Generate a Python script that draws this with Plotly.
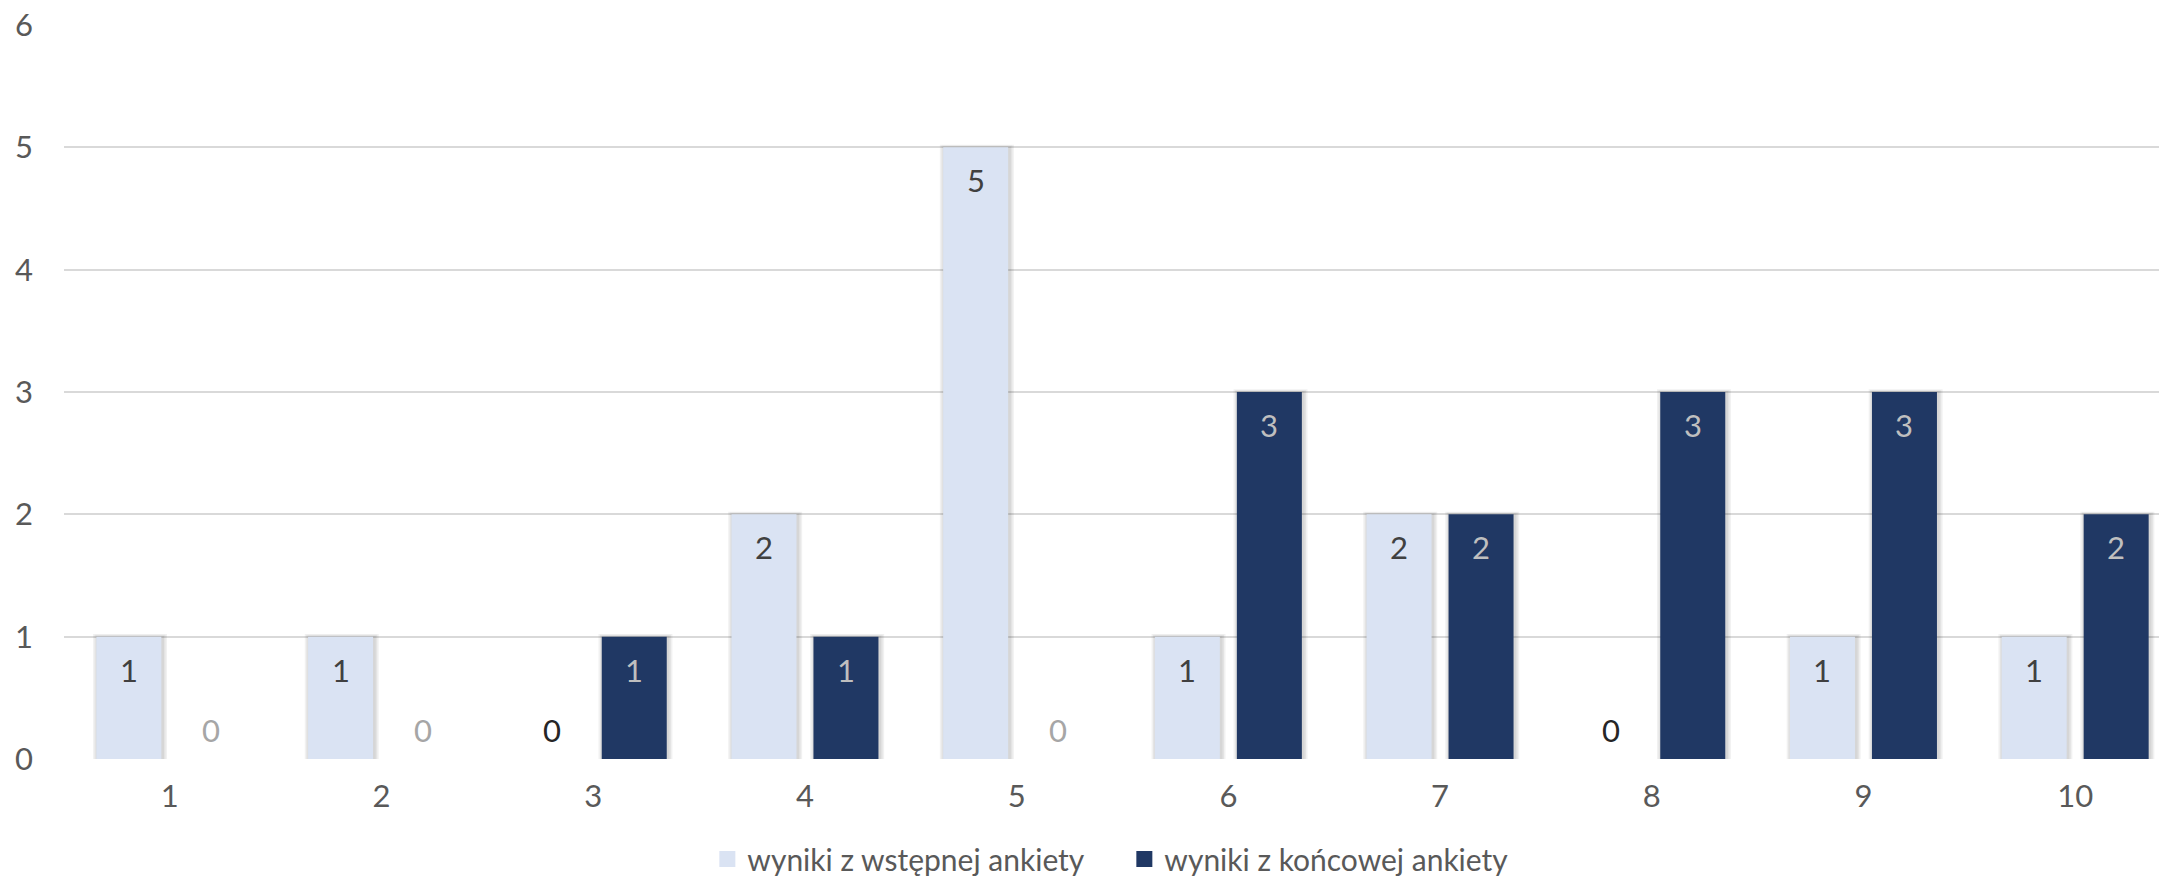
import plotly.graph_objects as go

# Survey results: number of answers per score (1-10)
categories = [1, 2, 3, 4, 5, 6, 7, 8, 9, 10]
initial_survey = [1, 1, 0, 2, 5, 1, 2, 0, 1, 1]
final_survey = [0, 0, 1, 1, 0, 3, 2, 3, 3, 2]
series_names = ["wyniki z wstępnej ankiety", "wyniki z końcowej ankiety"]
y_ticks = [0, 1, 2, 3, 4, 5, 6]

LIGHT = "#DAE3F3"
DARK = "#203864"
FONT = "Lato"
FS = 31

W, H = 2159, 876
M_L, M_R, M_T, M_B = 64, 0, 25, 117
X_RANGE = [0.5, 10.396]
Y_RANGE = [0, 6]

# pixel scale of the axes
px_per_x = (W - M_L - M_R) / (X_RANGE[1] - X_RANGE[0])
px_per_y = (H - M_T - M_B) / (Y_RANGE[1] - Y_RANGE[0])

# bar geometry in category units
BAR_W = 65 / px_per_x
CENTER_SHIFT = 41 / px_per_x
series = [
    (series_names[0], initial_survey, LIGHT, -CENTER_SHIFT, "#404040", "#262626"),
    (series_names[1], final_survey, DARK, CENTER_SHIFT, "#BFBFBF", "#A6A6A6"),
]

fig = go.Figure()

# soft drop shadow under the bars (several translucent layers)
for name, vals, color, shift, _, _ in series:
    for p in (1.5, 3.0, 4.5):
        dx = p / px_per_x
        dy = 0.6 * p / px_per_y
        fig.add_trace(go.Bar(
            x=categories,
            y=[v + dy if v > 0 else 0 for v in vals],
            width=BAR_W + 2 * dx,
            offset=shift - BAR_W / 2 - dx + 1.2 / px_per_x,
            marker=dict(color="rgba(0,0,0,0.055)", line=dict(width=0)),
            showlegend=False, hoverinfo="skip",
        ))

# the bars themselves
for name, vals, color, shift, _, _ in series:
    fig.add_trace(go.Bar(
        x=categories, y=vals, name=name,
        width=BAR_W, offset=shift - BAR_W / 2,
        marker=dict(color=color, line=dict(width=0)),
        showlegend=False,
    ))

# legend entries with larger square swatches
for name, vals, color, shift, _, _ in series:
    fig.add_trace(go.Scatter(
        x=[None], y=[None], mode="markers", name=name,
        marker=dict(symbol="square", size=16, color=color),
    ))

# value labels: inside near the top for bars, just above the axis for zeros
annotations = []
for name, vals, color, shift, in_color, zero_color in series:
    for c, v in zip(categories, vals):
        annotations.append(dict(
            x=c + shift, y=v, xref="x", yref="y",
            text=str(v), showarrow=False,
            yshift=-33 if v > 0 else 29,
            font=dict(family=FONT, size=FS, color=in_color if v > 0 else zero_color),
        ))

fig.update_layout(
    width=W, height=H,
    margin=dict(l=M_L, r=M_R, t=M_T, b=M_B, pad=0, autoexpand=False),
    paper_bgcolor="white", plot_bgcolor="white",
    barmode="overlay",
    font=dict(family=FONT, size=FS, color="#595959"),
    showlegend=True,
    legend=dict(
        orientation="h", x=663 / W, xanchor="left",
        y=1 - 859 / H, yanchor="middle", yref="container",
        font=dict(family=FONT, size=30, color="#595959"),
        itemsizing="trace", tracegroupgap=0, entrywidth=372,
    ),
    annotations=annotations,
    xaxis=dict(
        range=X_RANGE, tickmode="array", tickvals=categories,
        ticktext=[str(c) for c in categories],
        showgrid=False, zeroline=False, showline=False, ticks="",
        ticklabelstandoff=16,
    ),
    yaxis=dict(
        range=Y_RANGE, tickmode="array", tickvals=y_ticks,
        showgrid=True, gridcolor="#D9D9D9", gridwidth=2,
        zeroline=False, showline=False, ticks="",
        ticklabelstandoff=30,
    ),
)

fig.write_html("out.html")
